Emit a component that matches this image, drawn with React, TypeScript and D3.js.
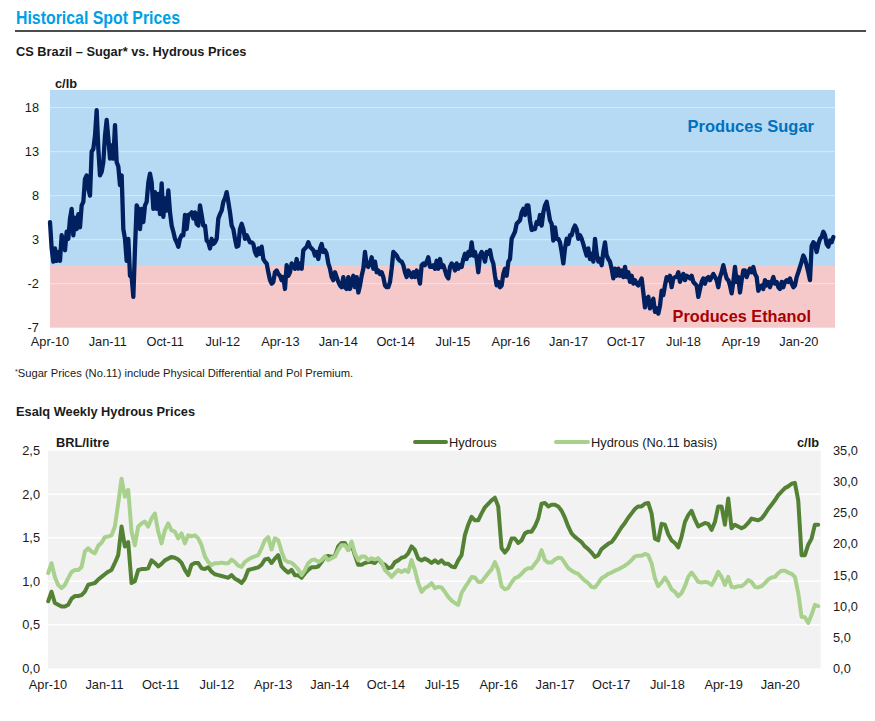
import React from "react";
import * as d3 from "d3";

// ---------- DATA ----------
// Top chart: CS Brazil sugar (incl. differential & pol premium) minus hydrous, c/lb, roughly weekly
const TOP_SERIES_START = "2010-04-01";
const TOP_SERIES_END = "2020-06-13";
const SUGAR_VS_HYDROUS = [
  5.0, 2.0, 0.5, 2.0, 0.6, 1.6, 0.6, 3.5, 2.7, 1.8,
  3.9, 3.1, 5.4, 6.5, 3.5, 5.5, 4.2, 5.9, 4.4, 6.9,
  7.3, 9.9, 10.3, 8.8, 8.0, 13.0, 13.3, 14.8, 17.7, 13.3,
  10.3, 10.7, 11.8, 14.8, 16.6, 14.5, 12.2, 13.7, 12.2, 16.0,
  11.8, 11.3, 9.2, 10.3, 4.2, 3.1, 0.6, 3.1, -1.1, -1.25,
  -3.5, 2.0, 6.9, 6.5, 4.2, 6.5, 5.0, 6.9, 7.3, 9.5,
  10.5, 9.5, 6.5, 8.4, 6.5, 8.2, 5.9, 9.4, 5.6, 7.7,
  6.3, 8.6, 6.1, 4.6, 3.9, 3.1, 2.7, 2.2, 3.1, 3.5,
  3.5, 5.8, 4.2, 5.8, 5.9, 6.1, 5.4, 6.1, 4.8, 4.6,
  6.9, 5.8, 4.6, 4.6, 2.9, 2.7, 2.0, 3.1, 2.5, 2.7,
  3.1, 5.4, 5.9, 6.3, 7.3, 7.7, 8.4, 7.3, 6.1, 4.6,
  4.2, 3.1, 2.2, 2.3, 4.2, 4.8, 4.2, 3.1, 3.5, 3.1,
  2.7, 2.7, 2.5, 1.6, 1.2, 2.0, 1.4, 2.2, 0.8, 0.5,
  0.3, -0.7, -1.6, -2.0, -1.8, -0.7, -0.5, -0.9, -1.1, -1.6,
  -1.25, -2.6, 0.1, -1.1, -0.7, 0.3, 0.1, -0.3, 0.8, -0.3,
  0.3, -0.3, 1.8, 2.0, 2.2, 2.7, 2.2, 2.0, 1.8, 1.2,
  1.6, 0.8, 2.0, 2.5, 1.6, 1.8, 1.4, 0.3, -0.3, -1.25,
  -1.6, -0.7, -1.25, -1.8, -2.2, -2.4, -1.25, -2.4, -2.6, -1.25,
  -2.6, -1.8, -1.1, -2.4, -1.25, -3.0, -2.2, -1.1, -0.3, 1.6,
  0.1, -0.1, 0.3, 1.0, -0.3, 0.5, -0.7, -0.5, -0.9, -0.7,
  -1.25, -2.2, -2.4, -2.4, -1.8, -0.3, 1.6, 1.4, 1.2, 0.8,
  0.6, 0.5, 0.1, -0.7, -1.25, -0.5, -0.9, -1.25, -0.7, -1.25,
  -0.5, -1.1, -2.0, 0.1, 0.3, 0.1, 0.5, 1.0, -0.1, -0.1,
  0.1, -0.3, 0.6, -0.3, 0.8, -0.1, 0.1, -0.5,
  -1.1, -1.4, -0.1, 0.3, 0.1, -0.5, 0.3, -0.3, 0.1, -0.1,
  0.8, 1.4, 0.8, 1.6, 1.2, 2.7, 1.2, 1.6, 0.8, -0.7,
  1.2, 1.6, 1.2, 0.5, 1.6, 1.4, 1.8, 0.8, 0.3, -1.1,
  -2.2, -1.8, -2.4, -2.2, -0.9, -0.3, -1.1, 0.5, 0.8, 3.1,
  3.5, 3.9, 4.8, 5.0, 5.2, 6.1, 6.5, 5.8, 6.9, 6.9,
  5.2, 4.1, 4.2, 4.2, 5.0, 4.8, 5.8, 4.6, 6.1, 6.9,
  7.3, 6.3, 5.2, 4.8, 2.9, 4.4, 3.1, 3.1, 2.7, 1.6,
  0.3, 2.0, 3.1, 2.5, 3.5, 3.5, 4.2, 4.6, 4.2, 3.1,
  3.5, 3.1, 2.5, 1.8, 1.2, 2.0, 0.8, 1.4, 0.5, 3.1,
  1.4, 0.5, 0.8, 0.1, 1.6, 2.7, 1.2, 0.8, 0.5, -0.3,
  -1.4, -0.3, -1.1, -0.3, -1.1, -0.5, -1.25, -0.1, -1.25, -0.7,
  -1.8, -1.1, -2.0, -1.6, -2.0, -2.2, -1.8, -1.4, -3.0, -4.7,
  -3.7, -3.5, -4.8, -4.5, -3.7, -5.2, -4.8, -5.4, -4.5, -2.8,
  -3.3, -2.2, -1.25, -1.6, -1.1, -2.4, -1.4, -1.25, -1.25, -0.7,
  -1.8, -1.25, -0.9, -1.6, -1.1, -1.25, -1.4, -1.1, -1.8, -2.0,
  -2.2, -3.5, -2.6, -1.8, -1.4, -2.0, -1.4, -1.25, -1.6, -1.25,
  -0.9, -1.25, -1.6, -2.4, -1.25, -0.7, 0.1, -0.7, -1.4, -1.6,
  -2.2, -3.1, -1.8, -0.1, -1.8, -1.25, -3.0, -1.6, -0.5, -0.5,
  -1.25, -0.7, -0.3, -0.7, -0.1, -0.9, -1.25, -2.8, -2.4, -2.2,
  -2.6, -1.6, -2.2, -1.8, -2.4, -1.8, -1.25, -2.0, -1.8, -2.4,
  -2.6, -1.8, -2.4, -1.8, -1.6, -1.8, -1.4, -2.0, -2.4, -2.2,
  -1.25, -0.7, -0.1, 0.5, 1.2, 0.8, 0.1, -0.7, -1.6, 2.3,
  2.7, 2.5, 1.6, 2.5, 3.1, 3.3, 3.9, 3.5, 2.5, 2.2,
  2.9, 2.7, 3.3,
];

// Bottom chart: Esalq weekly hydrous, BRL/litre (left axis) and No.11 basis c/lb (right axis)
const HYD_SERIES_START = "2010-04-02";
const HYD_SERIES_END = "2020-07-04";
const HYDROUS_BRL = [
  0.77, 0.88, 0.75, 0.73, 0.71, 0.71, 0.73, 0.80, 0.83, 0.83,
  0.84, 0.88, 0.96, 0.97, 0.98, 1.02, 1.05, 1.08, 1.11, 1.13,
  1.21, 1.30, 1.63, 1.40, 1.45, 0.98, 1.00, 1.13, 1.14, 1.14,
  1.15, 1.24, 1.21, 1.17, 1.20, 1.24, 1.26, 1.28, 1.27, 1.25,
  1.21, 1.13, 1.07, 1.19, 1.21, 1.21, 1.15, 1.14, 1.16, 1.11,
  1.08, 1.07, 1.06, 1.05, 1.04, 1.07, 1.03, 1.01, 0.98, 1.03,
  1.13, 1.14, 1.15, 1.16, 1.19, 1.25, 1.26, 1.21, 1.26, 1.30,
  1.17, 1.13, 1.10, 1.13, 1.07, 1.07, 1.04, 1.09, 1.13, 1.16,
  1.16, 1.17, 1.22, 1.28, 1.29, 1.28, 1.29, 1.40, 1.44, 1.44,
  1.36, 1.42, 1.30, 1.19, 1.19, 1.21, 1.22, 1.22, 1.21, 1.26,
  1.21, 1.19, 1.15, 1.16, 1.22, 1.24, 1.27, 1.28, 1.32, 1.40,
  1.36, 1.26, 1.24, 1.26, 1.24, 1.21, 1.24, 1.21, 1.24,
  1.20, 1.20, 1.17, 1.16, 1.24, 1.30, 1.53, 1.65, 1.74, 1.70,
  1.70, 1.78, 1.85, 1.89, 1.93, 1.96, 1.86, 1.38, 1.33, 1.38,
  1.49, 1.49, 1.44, 1.47, 1.55, 1.57, 1.57, 1.63, 1.72, 1.89,
  1.90, 1.86, 1.88, 1.88, 1.86, 1.81, 1.73, 1.63, 1.55, 1.51,
  1.48, 1.45, 1.40, 1.37, 1.33, 1.28, 1.30, 1.37, 1.40, 1.43,
  1.45, 1.50, 1.56, 1.62, 1.67, 1.73, 1.78, 1.83, 1.86, 1.86,
  1.89, 1.90, 1.78, 1.49, 1.47, 1.66, 1.65, 1.54, 1.47, 1.44,
  1.39, 1.51, 1.68, 1.76, 1.81, 1.71, 1.63, 1.65, 1.67, 1.66,
  1.59, 1.68, 1.86, 1.86, 1.65, 1.95, 1.61, 1.65, 1.63, 1.61,
  1.63, 1.67, 1.72, 1.71, 1.70, 1.72, 1.77, 1.83, 1.88, 1.93,
  1.99, 2.03, 2.07, 2.09, 2.12, 2.13, 1.93, 1.30, 1.30, 1.42,
  1.49, 1.65, 1.65,
];
const HYDROUS_NO11 = [
  15.3, 16.9, 14.7, 13.4, 12.9, 13.4, 14.5, 15.5, 15.8, 15.8,
  16.3, 18.8, 19.3, 18.8, 18.5, 19.7, 20.2, 21.1, 21.2, 21.4,
  22.8, 26.5, 30.5, 27.6, 28.7, 22.0, 19.8, 22.8, 23.3, 23.6,
  22.8, 24.1, 24.9, 22.0, 20.1, 22.2, 23.3, 22.2, 22.0, 20.9,
  21.7, 20.1, 21.4, 21.2, 21.4, 20.9, 19.8, 18.0, 17.1, 16.6,
  16.9, 16.9, 17.0, 16.9, 16.9, 17.5, 17.1, 16.5, 16.3, 17.1,
  17.5, 17.8, 18.0, 18.2, 19.3, 20.6, 21.1, 19.1, 20.9, 20.6,
  18.8, 17.4, 17.1, 17.0, 16.5, 15.9, 15.0, 15.8, 16.9, 17.4,
  17.5, 17.1, 17.4, 18.0, 17.4, 17.7, 18.0, 19.0, 19.8, 19.8,
  19.0, 20.4, 18.5, 17.4, 18.0, 18.0, 17.4, 17.7, 17.5, 17.7,
  17.1, 15.8, 15.3, 14.7, 15.3, 15.8, 15.5, 15.8, 15.5, 17.4,
  15.8, 13.7, 12.3, 12.9, 13.2, 13.7, 12.9, 13.1, 13.0,
  12.3, 11.5, 10.9, 10.5, 10.2, 12.1, 13.0, 13.8, 14.7, 14.6,
  13.9, 13.9, 14.6, 15.3, 15.9, 17.1, 15.8, 13.2, 12.7, 12.9,
  13.8, 14.5, 14.7, 15.2, 15.8, 16.1, 16.1, 16.8, 17.5, 19.0,
  17.4, 17.0, 17.0, 17.5, 17.8, 17.7, 16.9, 16.1, 15.7, 15.4,
  15.2, 14.6, 14.1, 13.7, 13.1, 13.0, 13.7, 14.5, 14.8, 15.2,
  15.4, 15.7, 15.9, 16.2, 16.5, 16.9, 17.4, 18.0, 18.1, 18.1,
  18.4, 18.2, 16.9, 14.5, 13.2, 13.8, 14.6, 13.8, 12.7, 12.3,
  11.6, 12.1, 13.2, 14.7, 15.4, 14.7, 13.9, 13.8, 13.9, 13.8,
  13.4, 14.3, 15.5, 14.7, 13.4, 14.7, 13.1, 13.0, 13.2, 13.2,
  13.6, 14.2, 13.9, 13.1, 13.0, 13.2, 13.7, 14.3, 14.6, 14.7,
  15.3, 15.7, 15.7, 15.4, 15.2, 14.7, 12.1, 8.3, 8.2, 7.3,
  8.6, 10.2, 10.0,
];

const X_TICK_DATES = [
  "2010-04-01", "2011-01-01", "2011-10-01", "2012-07-01", "2013-04-01",
  "2014-01-01", "2014-10-01", "2015-07-01", "2016-04-01", "2017-01-01",
  "2017-10-01", "2018-07-01", "2019-04-01", "2020-01-01",
];
const TOP_Y_TICKS = [-7, -2, 3, 8, 13, 18];
const LEFT_Y_TICKS = [0, 0.5, 1, 1.5, 2, 2.5];
const RIGHT_Y_TICKS = [0, 5, 10, 15, 20, 25, 30, 35];
const LEGEND_LABELS = ["Hydrous", "Hydrous (No.11 basis)"];

// ---------- STYLE ----------
const FONT = "'Liberation Sans', Arial, Helvetica, sans-serif";
const TEXT = "#1a1a1a";
const NAVY = "#002060";
const DARK_GREEN = "#548235";
const LIGHT_GREEN = "#A9D18E";

const parse = d3.timeParse("%Y-%m-%d");
const fmtMonth = d3.timeFormat("%b-%y");
const commaLocale = d3.formatLocale({ decimal: ",", thousands: ".", grouping: [3], currency: ["", ""] });
const fmt1 = commaLocale.format(".1f");

function datesFor(start: string, end: string, n: number) {
  const s = (parse(start) as Date).getTime();
  const e = (parse(end) as Date).getTime();
  return (i: number) => new Date(s + ((e - s) * i) / (n - 1));
}

export default function App() {
  // ----- top chart -----
  const topL = 50, topR = 835, topT = 90, topB = 327.7;
  const xTop = d3.scaleTime().domain([parse("2010-04-01") as Date, parse("2020-06-21") as Date]).range([topL, topR]);
  const yTop = d3.scaleLinear().domain([-7, 20]).range([topB, topT]);
  const topDate = datesFor(TOP_SERIES_START, TOP_SERIES_END, SUGAR_VS_HYDROUS.length);
  const topLine = d3.line<number>().x((_, i) => xTop(topDate(i))).y((d) => yTop(d));

  // ----- bottom chart -----
  const botL = 48, botR = 820.7, botT = 450.7, botB = 668.3;
  const xBot = d3.scaleTime().domain([parse("2010-04-01") as Date, parse("2020-07-16") as Date]).range([botL, botR]);
  const yLeft = d3.scaleLinear().domain([0, 2.5]).range([botB, botT]);
  const yRight = d3.scaleLinear().domain([0, 35]).range([botB, botT]);
  const botDate = datesFor(HYD_SERIES_START, HYD_SERIES_END, HYDROUS_BRL.length);
  const botDate2 = datesFor(HYD_SERIES_START, HYD_SERIES_END, HYDROUS_NO11.length);
  const brlLine = d3.line<number>().x((_, i) => xBot(botDate(i))).y((d) => yLeft(d));
  const no11Line = d3.line<number>().x((_, i) => xBot(botDate2(i))).y((d) => yRight(d));

  const tickDates = X_TICK_DATES.map((s) => parse(s) as Date);

  return (
    <svg
      width={875}
      height={721}
      style={{ position: "absolute", left: 0, top: 0, display: "block", background: "#fff" }}
      fontFamily={FONT}
    >
      {/* Header */}
      <text x={16} y={24} fontFamily="'Liberation Sans Narrow', 'Arial Narrow', 'Liberation Sans', Arial, sans-serif"
        fontWeight="bold" fontSize={19} fill="#00A0E6" textLength={164} lengthAdjust="spacingAndGlyphs">
        Historical Spot Prices
      </text>
      <line x1={15} x2={866} y1={31} y2={31} stroke="#111" strokeWidth={1.4} />
      <text x={16} y={56} fontWeight="bold" fontSize={12.8} fill={TEXT}>CS Brazil – Sugar* vs. Hydrous Prices</text>

      {/* Top chart background zones */}
      <rect x={topL} y={topT} width={topR - topL} height={yTop(0) - topT} fill="#B6DAF4" />
      <rect x={topL} y={yTop(0)} width={topR - topL} height={topB - yTop(0)} fill="#F5C8CA" />
      {TOP_Y_TICKS.filter((t) => t !== 0 && t !== -7).map((t) => (
        <line key={t} x1={topL} x2={topR} y1={yTop(t)} y2={yTop(t)} stroke="#ffffff" strokeOpacity={0.45} strokeWidth={1} />
      ))}
      <text x={topR - 21} y={131.7} textAnchor="end" fontWeight="bold" fontSize={16.5} fill="#0070C0">Produces Sugar</text>
      <text x={topR - 24} y={322} textAnchor="end" fontWeight="bold" fontSize={16.3} fill="#A80000">Produces Ethanol</text>

      <path d={topLine(SUGAR_VS_HYDROUS) || ""} fill="none" stroke={NAVY} strokeWidth={4.3} strokeLinejoin="round" strokeLinecap="round" />

      {/* Top axes */}
      <text x={55} y={88} fontWeight="bold" fontSize={12.8} fill={TEXT}>c/lb</text>
      {TOP_Y_TICKS.map((t) => (
        <text key={t} x={39} y={yTop(t)} dy="0.35em" textAnchor="end" fontSize={12.8} fill={TEXT}>{t}</text>
      ))}
      {tickDates.map((d, i) => (
        <text key={i} x={xTop(d)} y={346} textAnchor="middle" fontSize={12.8} fill={TEXT}>{fmtMonth(d)}</text>
      ))}

      {/* Footnote */}
      <text x={15} y={377} fontSize={11.2} fill={TEXT}>
        <tspan fontSize={7} dy={-3}>*</tspan>
        <tspan dy={3}>Sugar Prices (No.11) include Physical Differential and Pol Premium.</tspan>
      </text>

      {/* Bottom chart */}
      <text x={16} y={416} fontWeight="bold" fontSize={12.8} fill={TEXT}>Esalq Weekly Hydrous Prices</text>
      <rect x={botL} y={botT} width={botR - botL} height={botB - botT} fill="#F2F2F2" />
      {LEFT_Y_TICKS.filter((t) => t > 0 && t < 2.5).map((t) => (
        <line key={t} x1={botL} x2={botR} y1={yLeft(t)} y2={yLeft(t)} stroke="#ffffff" strokeWidth={1.5} />
      ))}

      <path d={brlLine(HYDROUS_BRL) || ""} fill="none" stroke={DARK_GREEN} strokeWidth={4} strokeLinejoin="round" strokeLinecap="round" />
      <path d={no11Line(HYDROUS_NO11) || ""} fill="none" stroke={LIGHT_GREEN} strokeWidth={4} strokeLinejoin="round" strokeLinecap="round" />

      <text x={56} y={447} fontWeight="bold" fontSize={12.8} fill={TEXT}>BRL/litre</text>
      <text x={819} y={447} textAnchor="end" fontWeight="bold" fontSize={12.8} fill={TEXT}>c/lb</text>
      {LEFT_Y_TICKS.map((t) => (
        <text key={t} x={40} y={yLeft(t)} dy="0.35em" textAnchor="end" fontSize={12.8} fill={TEXT}>{fmt1(t)}</text>
      ))}
      {RIGHT_Y_TICKS.map((t) => (
        <text key={t} x={833} y={yRight(t)} dy="0.35em" textAnchor="start" fontSize={12.8} fill={TEXT}>{fmt1(t)}</text>
      ))}
      {tickDates.map((d, i) => (
        <text key={i} x={xBot(d)} y={689} textAnchor="middle" fontSize={12.8} fill={TEXT}>{fmtMonth(d)}</text>
      ))}

      {/* Legend */}
      <line x1={415} x2={446} y1={442} y2={442} stroke={DARK_GREEN} strokeWidth={4} strokeLinecap="round" />
      <text x={449} y={446.5} fontSize={12.8} fill={TEXT}>{LEGEND_LABELS[0]}</text>
      <line x1={556} x2={588} y1={442} y2={442} stroke={LIGHT_GREEN} strokeWidth={4} strokeLinecap="round" />
      <text x={591} y={446.5} fontSize={12.8} fill={TEXT}>{LEGEND_LABELS[1]}</text>
    </svg>
  );
}
